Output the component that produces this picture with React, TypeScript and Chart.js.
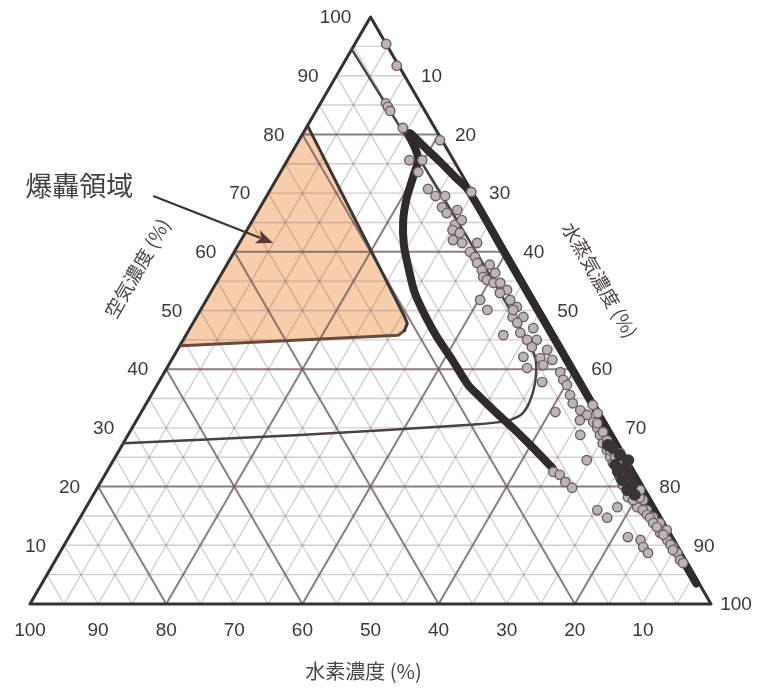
import React, { useEffect, useRef } from 'react';
import { Chart, registerables } from 'chart.js';

Chart.register(...registerables);

// All ternary values are [air %, steam %]; hydrogen % = 100 - air - steam.

const airTickLabels = [10, 20, 30, 40, 50, 60, 70, 80, 90, 100];
const hydrogenTickLabels = [100, 90, 80, 70, 60, 50, 40, 30, 20, 10];
const steamTickLabels = [10, 20, 30, 40, 50, 60, 70, 80, 90, 100];
const minorGrid = [5, 10, 15, 20, 25, 30, 35, 40, 45, 50, 55, 60, 65, 70, 75, 80, 85, 90, 95];
const majorGrid = [20, 40, 60, 80];

const axisTitleAir = '空気濃度 (%)';
const axisTitleHydrogen = '水素濃度 (%)';
const axisTitleSteam = '水蒸気濃度 (%)';
const regionLabel = '爆轟領域';

// detonation region (orange)
const detonationRegion: [number, number][] = [
  [81.5, 0], [49.2, 30.3], [47.8, 31.5], [46.6, 31.7], [45.8, 31.2], [44.0, 0.2], [81.5, 0],
];
const detonationUpperBoundary: [number, number][] = [
  [81.5, 0], [49.2, 30.3], [47.8, 31.5], [46.6, 31.7],
];
const detonationLowerBoundary: [number, number][] = [
  [46.6, 31.7], [45.8, 31.2], [44.0, 0.2],
];

// flammability limit (thin line)
const flammabilityLimit: [number, number][] = [
  [94.5, 0], [80, 15.0], [60, 35.5], [46, 49.5], [42, 53.2], [39, 54.8], [36.5, 55.7],
  [34, 56.2], [32.3, 56.0], [31.2, 54.5], [30.6, 50.0], [28.8, 25.2], [27.4, 0],
];

// thick curve (loop)
const thickCurve: [number, number][] = [
  [23.2, 65.1], [27.1, 59.9], [30.0, 55.9], [32.5, 52.3], [35.3, 48.4], [37.3, 45.7],
  [41.6, 41.2], [45.5, 37.0], [49.2, 33.4], [53.0, 30.0], [56.9, 27.2], [61.2, 24.3],
  [65.4, 22.1], [69.3, 20.7], [73.1, 19.8], [76.0, 19.0], [80.2, 15.6], [77.7, 19.2],
  [75.3, 22.6], [72.7, 26.1], [70.5, 29.1], [60, 39.6], [40, 59.6], [20, 79.6], [3.5, 96.1],
];

// measured points (grey circles)
const measuredPoints: [number, number][] = [
  [95.4, 4.6], [91.7, 8.0], [85.3, 9.6], [84.7, 10.2], [84.0, 10.9], [81.1, 14.2], [79.0, 20.7],
  [75.6, 17.9], [75.6, 19.8], [73.6, 20.2], [70.7, 23.1], [69.5, 24.8], [69.5, 26.2], [70.2, 29.7],
  [67.6, 26.7], [66.6, 27.9], [67.1, 29.2], [64.6, 30.1], [65.4, 30.7], [63.7, 30.2], [63.2, 31.5],
  [61.5, 34.9], [62.0, 31.1], [61.5, 32.7], [60.0, 34.6], [59.1, 35.8], [58.1, 36.6], [57.8, 38.6],
  [56.9, 37.9], [56.4, 40.1], [55.7, 38.7], [55.2, 39.5], [54.7, 40.7], [54.7, 41.7], [53.5, 43.3],
  [51.8, 40.2], [53.0, 42.5], [50.1, 42.1], [51.8, 44.6], [50.6, 46.2], [48.9, 46.4], [48.9, 48.0],
  [47.9, 47.6], [47.0, 50.4], [45.8, 46.6], [45.0, 51.9], [46.2, 48.9], [45.0, 50.5], [50.1, 45.9],
  [43.8, 51.8], [43.3, 54.3], [42.1, 51.4], [41.9, 54.0], [41.6, 55.9], [40.7, 55.0], [39.5, 58.1],
  [37.8, 56.3], [38.2, 59.2], [37.3, 60.2], [40.2, 52.9], [35.6, 61.5], [32.7, 60.8], [34.2, 62.6],
  [33.0, 64.3], [32.2, 65.7], [31.3, 65.1], [31.0, 67.2], [30.0, 68.3], [28.8, 66.4], [28.8, 69.3],
  [24.5, 69.5], [27.4, 70.4], [26.2, 71.6], [25.0, 72.7], [21.6, 76.9], [24.0, 73.6], [22.8, 74.8],
  [21.6, 75.8], [20.3, 76.9], [18.9, 78.6], [17.7, 80.2], [17.7, 81.2], [16.5, 80.9], [16.0, 82.6],
  [16.0, 75.3], [14.7, 77.4], [16.5, 78.0], [14.8, 84.1], [13.8, 85.6], [12.6, 87.2], [11.4, 82.1],
  [10.9, 84.2], [9.7, 85.2], [8.7, 86.4], [12.1, 86.5], [10.9, 88.1], [9.7, 89.6], [8.7, 90.7],
  [7.5, 91.7], [22.5, 65.6], [22.0, 66.8], [20.8, 68.2], [19.8, 69.7], [33.9, 65.7], [32.5, 67.1],
  [30.8, 67.9], [29.3, 69.5], [27.9, 70.8], [26.2, 72.1], [24.9, 73.5], [23.3, 74.6], [22.3, 75.8],
  [21.1, 76.9], [19.9, 78.2], [18.2, 78.7], [17.7, 79.7], [18.1, 80.5], [16.0, 82.0], [15.2, 83.0],
  [14.7, 83.7], [13.8, 84.6], [13.1, 85.5], [11.8, 87.1], [10.1, 89.0], [9.2, 89.8], [7.0, 92.4],
  [19.4, 79.9], [25.7, 73.8], [24.0, 75.7],
];

// very dense overlapping points (dark blob)
const denseCluster: [number, number][] = [
  [26.6, 72.2], [25.4, 73.9], [23.7, 74.1], [23.2, 75.8], [22.0, 77.1], [21.1, 76.4],
  [20.3, 78.3], [22.5, 75.1], [19.4, 78.0], [18.6, 79.5], [27.1, 71.3], [24.5, 75.6],
];

const toXY = (p: [number, number]) => ({ x: p[1] + p[0] / 2, y: p[0] });

const lineDs = (pts: [number, number][], color: string, width: number, order: number, extra: any = {}) => ({
  type: 'line',
  data: pts.map(toXY),
  borderColor: color,
  borderWidth: width,
  pointRadius: 0,
  pointHoverRadius: 0,
  fill: false,
  tension: 0,
  order,
  clip: false,
  borderCapStyle: 'round',
  borderJoinStyle: 'round',
  ...extra,
});

const labelPlugin = {
  id: 'ternaryLabels',
  afterDatasetsDraw(chart: any) {
    const { ctx } = chart;
    const xs = chart.scales.x;
    const ys = chart.scales.y;
    const P = (a: number, s: number) => [xs.getPixelForValue(s + a / 2), ys.getPixelForValue(a)];
    const Q = (x: number, y: number) => [xs.getPixelForValue(x), ys.getPixelForValue(y)];
    ctx.save();
    ctx.fillStyle = '#3d3939';
    ctx.font = '19px "Liberation Sans", Arial, sans-serif';
    ctx.textBaseline = 'middle';
    ctx.textAlign = 'center';
    airTickLabels.forEach((v) => {
      const [px, py] = P(v, 0);
      ctx.fillText(String(v), px - (v === 100 ? 35 : 28.5), py + 1);
    });
    hydrogenTickLabels.forEach((v) => {
      const [px, py] = P(0, 100 - v);
      ctx.fillText(String(v), px, py + 27);
    });
    steamTickLabels.forEach((v) => {
      const [px, py] = P(100 - v, v);
      ctx.fillText(String(v), px + (v === 100 ? 25 : 27), py + 1);
    });

    // axis titles
    ctx.fillStyle = '#4a4545';
    ctx.font = '20px "Noto Sans CJK JP", sans-serif';
    {
      const [px, py] = P(0, 50);
      ctx.fillText(axisTitleHydrogen, px - 7, py + 67);
    }
    ctx.font = '19px "Noto Sans CJK JP", sans-serif';
    {
      const [px, py] = P(55, 0);
      ctx.save();
      ctx.translate(px - 80, py - 13);
      ctx.rotate(-Math.PI / 3);
      ctx.fillText(axisTitleAir, 0, 0);
      ctx.restore();
    }
    {
      const [px, py] = P(55, 45);
      ctx.save();
      ctx.translate(px + 76, py - 1);
      ctx.rotate(Math.PI / 3);
      ctx.fillText(axisTitleSteam, 0, 0);
      ctx.restore();
    }

    // region annotation with arrow
    ctx.font = '27px "Noto Sans CJK JP", sans-serif';
    ctx.fillStyle = '#444';
    ctx.textAlign = 'left';
    {
      const [tx, ty] = Q(-0.7, 71.2);
      ctx.fillText(regionLabel, tx, ty);
    }
    const [fx, fy] = Q(18.1, 69.5);
    const [hx, hy] = Q(35.7, 61.5);
    const len = Math.hypot(hx - fx, hy - fy);
    const dx = (hx - fx) / len;
    const dy = (hy - fy) / len;
    const L = 17;
    const W = 7;
    ctx.strokeStyle = '#3a3535';
    ctx.lineWidth = 2;
    ctx.beginPath();
    ctx.moveTo(fx, fy);
    ctx.lineTo(hx - dx * L * 0.8, hy - dy * L * 0.8);
    ctx.stroke();
    ctx.fillStyle = '#5a3a33';
    ctx.beginPath();
    ctx.moveTo(hx, hy);
    ctx.lineTo(hx - dx * L - dy * W, hy - dy * L + dx * W);
    ctx.lineTo(hx - dx * L * 0.75, hy - dy * L * 0.75);
    ctx.lineTo(hx - dx * L + dy * W, hy - dy * L - dx * W);
    ctx.closePath();
    ctx.fill();
    ctx.restore();
  },
};

function buildDatasets() {
  const ds: any[] = [];
  ds.push(lineDs(detonationRegion, 'rgba(0,0,0,0)', 0, 100, { fill: 'shape', backgroundColor: '#f8cdab' }));
  const gridFamilies = (k: number): [number, number][][] => [
    [[k, 0], [k, 100 - k]],
    [[0, k], [100 - k, k]],
    [[100 - k, 0], [0, 100 - k]],
  ];
  minorGrid.forEach((k) => {
    if (majorGrid.includes(k)) return;
    gridFamilies(k).forEach((seg) => ds.push(lineDs(seg, 'rgba(105,85,85,0.29)', 1.4, 90, { borderCapStyle: 'butt' })));
  });
  majorGrid.forEach((k) => {
    gridFamilies(k).forEach((seg) => ds.push(lineDs(seg, 'rgba(110,88,88,0.78)', 2, 80, { borderCapStyle: 'butt' })));
  });
  ds.push(lineDs([[0, 0], [0, 100], [100, 0], [0, 0]], '#363232', 3, 70));
  ds.push(lineDs(detonationUpperBoundary, '#3b3737', 3, 60));
  ds.push(lineDs(detonationLowerBoundary, '#6a4a3c', 3, 60));
  ds.push(lineDs(flammabilityLimit, '#4a4242', 2.5, 50, { tension: 0.25 }));
  ds.push(lineDs(thickCurve, '#2f2b2b', 8, 40, { tension: 0.3 }));
  ds.push({
    type: 'line',
    data: denseCluster.map(toXY),
    showLine: false,
    borderWidth: 0,
    pointRadius: 5.5,
    pointHoverRadius: 5.5,
    pointBackgroundColor: '#3a3333',
    pointBorderColor: '#3a3333',
    pointBorderWidth: 1,
    order: 8,
    clip: false,
  });
  ds.push({
    type: 'line',
    data: measuredPoints.map(toXY),
    showLine: false,
    borderWidth: 0,
    pointRadius: 4.7,
    pointHoverRadius: 4.7,
    pointBackgroundColor: '#bdb4b4',
    pointBorderColor: '#6b5f5f',
    pointBorderWidth: 1.4,
    order: 10,
    clip: false,
  });
  return ds;
}

export default function App() {
  const canvasRef = useRef<HTMLCanvasElement | null>(null);
  useEffect(() => {
    if (!canvasRef.current) return;
    const chart = new Chart(canvasRef.current, {
      type: 'line',
      data: { datasets: buildDatasets() },
      options: {
        animation: false,
        responsive: false,
        events: [],
        layout: { padding: { left: 30, right: 57, top: 17, bottom: 85 } },
        plugins: { legend: { display: false }, tooltip: { enabled: false }, title: { display: false } },
        scales: {
          x: { type: 'linear', min: 0, max: 100, display: false },
          y: { type: 'linear', min: 0, max: 100, display: false },
        },
      } as any,
      plugins: [labelPlugin],
    } as any);
    return () => chart.destroy();
  }, []);
  return (
    <div style={{ position: 'absolute', left: 0, top: 0, width: 768, height: 689, background: '#fff' }}>
      <canvas ref={canvasRef} width={768} height={689} />
    </div>
  );
}
